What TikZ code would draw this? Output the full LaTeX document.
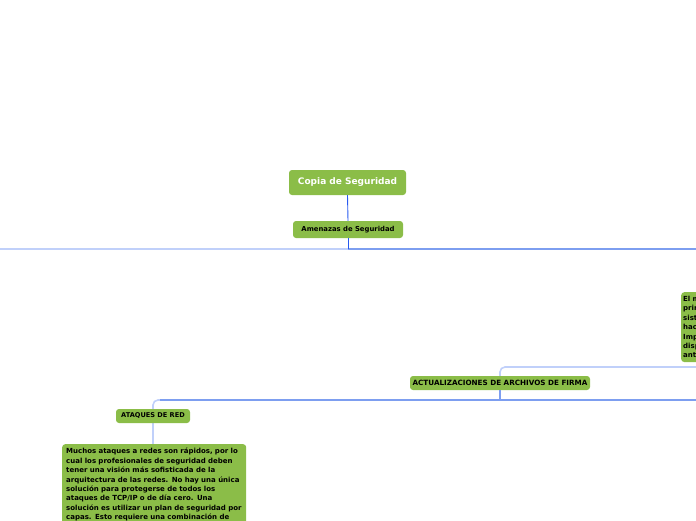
\documentclass[tikz,border=0pt]{standalone}
\usepackage{fontspec}
\setmainfont{DejaVu Sans}
\definecolor{leaf}{RGB}{139,189,72}
\definecolor{dblue}{RGB}{40,90,240}
\definecolor{mblue}{RGB}{125,158,240}
\definecolor{lblue}{RGB}{192,208,250}
\tikzset{
  box/.style={fill=leaf, rounded corners=3pt, font=\bfseries\fontsize{7}{9.4}\selectfont, text=black, inner sep=0pt},
  bigbox/.style={box, align=left, inner xsep=2pt, inner ysep=4pt, anchor=north west},
  conn/.style={draw=dblue, line width=0.9pt},
  mline/.style={draw=mblue, line width=1.3pt},
  lline/.style={draw=lblue, line width=1.6pt},
}
\begin{document}
\begin{tikzpicture}[x=1pt,y=-1pt]
\useasboundingbox (0,0) rectangle (696,520);
\clip (0,0) rectangle (696,520);
% nodes
\node[box, minimum width=117pt, minimum height=25pt, text=white, font=\bfseries\fontsize{9}{10}\selectfont] (c) at (347.5,182.5) {Copia de Seguridad};
\node[box, minimum width=110pt, minimum height=17pt, font=\bfseries\fontsize{6.85}{9}\selectfont] (a) at (348,229.5) {Amenazas de Seguridad};
\coordinate (h0) at (348,249);
\coordinate (hl) at (0,249);
\coordinate (hr) at (696,249);
\coordinate (v1) at (500,400);
\coordinate (r1) at (696,367);
\coordinate (v2) at (153,444);
\coordinate (r2) at (696,400);
% connectors
\draw[lline] (h0) -- (hl);
\draw[mline] (h0) -- (hr);
\draw[conn] (c.south) -- (a.north);
\draw[conn] (a.south) -- (h0);
\draw[lline, rounded corners=5pt] (v1) -- (500,367) -- (r1);
\draw[lline, rounded corners=5pt] (v2) -- (153,400) -- (v1);
\draw[mline] (160,400) -- (r2);
\node[box, minimum width=180pt, minimum height=14pt, font=\bfseries\fontsize{7.2}{9}\selectfont] (f) at (500,383) {ACTUALIZACIONES DE ARCHIVOS DE FIRMA};
\draw[mline] (f.south) -- (v1);
\node[box, minimum width=74pt, minimum height=14pt, font=\bfseries\fontsize{6.6}{9}\selectfont] (r) at (153,416) {ATAQUES DE RED};
\node[bigbox, text width=180pt] (m) at (62,444) {\hspace*{2pt}Muchos ataques a redes son rápidos, por lo\\
\hspace*{2pt}cual los profesionales de seguridad deben\\
\hspace*{2pt}tener una visión más sofisticada de la\\
\hspace*{2pt}arquitectura de las redes. No hay una única\\
\hspace*{2pt}solución para protegerse de todos los\\
\hspace*{2pt}ataques de TCP/IP o de día cero. Una\\
\hspace*{2pt}solución es utilizar un plan de seguridad por\\
\hspace*{2pt}capas. Esto requiere una combinación de\\
\hspace*{2pt}dispositivos y servicios de red que trabajen};
\node[bigbox, text width=120pt] (e) at (681,292) {El malware\\
principal\\
sistema\\
hacer\\
Importante\\
disponibles\\
antivirus};
\end{tikzpicture}
\end{document}
